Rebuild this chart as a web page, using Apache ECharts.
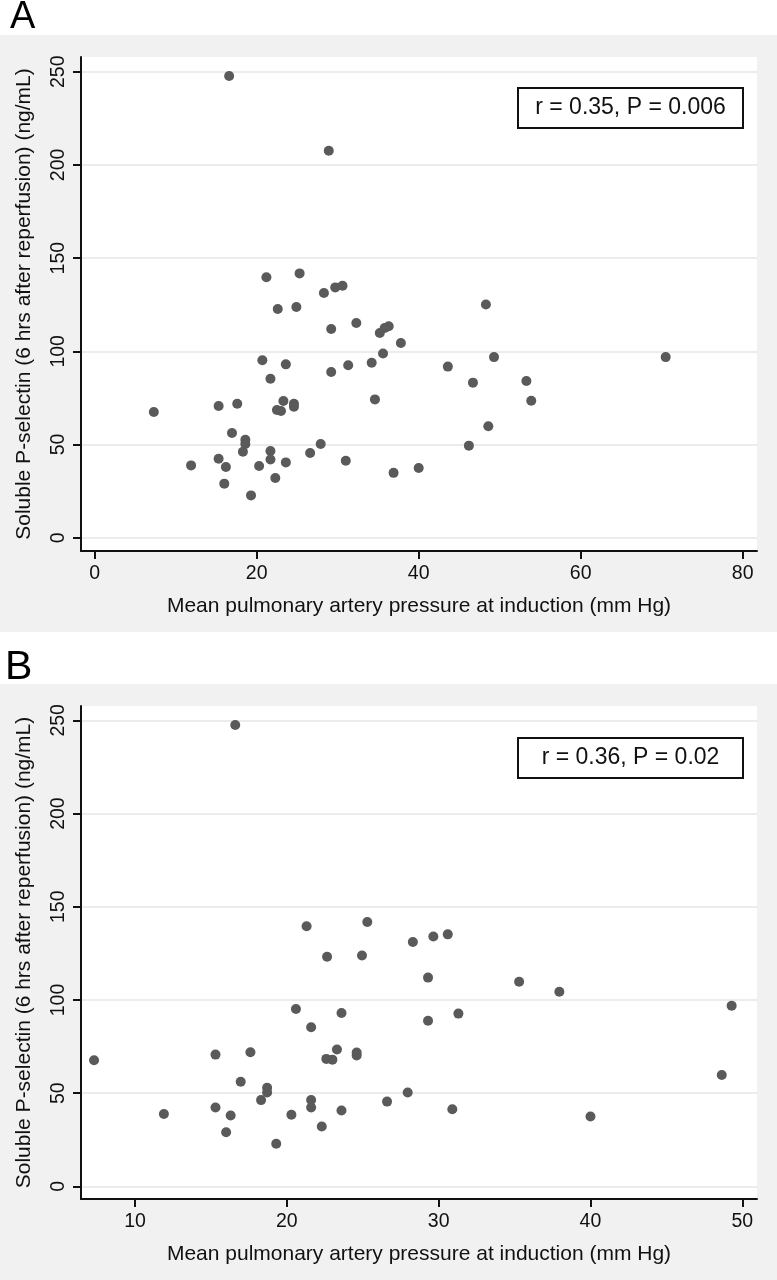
<!DOCTYPE html>
<html>
<head>
<meta charset="utf-8">
<script src="https://cdn.jsdelivr.net/npm/echarts@6/dist/echarts.min.js"></script>
<style>
html,body{margin:0;padding:0;background:#fff;}
#chart{width:777px;height:1280px;}
</style>
</head>
<body>
<div id="chart"></div>
<script>
// Panel A: all patients
const xA = [16.6, 28.9, 21.2, 25.3, 28.3, 29.7, 30.6, 22.6, 24.9, 48.3,
            29.2, 32.3, 35.2, 35.8, 36.3, 37.8, 20.7, 23.6, 21.7, 29.2,
            31.3, 34.2, 35.6, 7.3, 15.3, 17.6, 23.3, 22.5, 23.0, 24.6,
            24.6, 34.6, 16.95, 18.6, 18.6, 18.3, 15.3, 16.2, 11.9, 16.0,
            19.3, 20.3, 21.7, 21.7, 22.3, 23.6, 26.6, 27.9, 31.0, 36.9,
            49.3, 70.5, 43.6, 46.7, 53.3, 53.9, 48.6, 46.2, 40.0];
const yA = [247.7, 207.6, 139.7, 141.8, 131.3, 134.3, 135.2, 122.7, 123.8, 125.1,
            112.0, 115.2, 109.8, 112.5, 113.4, 104.5, 95.2, 93.0, 85.3, 88.9,
            92.5, 93.9, 98.8, 67.4, 70.7, 71.9, 73.3, 68.5, 68.0, 71.9,
            70.3, 74.2, 56.2, 52.6, 50.3, 46.1, 42.4, 37.9, 38.8, 29.0,
            22.7, 38.5, 46.5, 42.0, 32.0, 40.4, 45.4, 50.3, 41.3, 34.8,
            96.9, 96.9, 91.8, 83.2, 84.1, 73.5, 59.8, 49.4, 37.4];
// Panel B: subset
const xB = [16.6, 21.3, 25.3, 22.65, 24.95, 28.3, 29.65, 30.6, 20.6, 23.6,
            21.6, 7.3, 15.3, 17.6, 23.3, 22.6, 23.0, 24.6, 24.6, 16.96,
            18.7, 18.7, 18.3, 15.3, 16.3, 11.9, 16.0, 19.3, 20.3, 21.6,
            21.6, 22.3, 23.6, 26.6, 27.96, 30.9, 40.0, 29.3, 35.3, 37.95,
            29.3, 31.3, 49.3, 48.65];
const yB = [247.5, 139.6, 141.8, 123.2, 123.9, 131.1, 134.1, 135.2, 95.2, 93.0,
            85.4, 67.7, 70.7, 72.0, 73.4, 68.4, 68.0, 71.8, 70.2, 56.1,
            52.9, 50.4, 46.3, 42.3, 38.0, 38.8, 29.1, 22.9, 38.4, 46.4,
            42.3, 32.1, 40.7, 45.5, 50.4, 41.4, 37.5, 112.0, 109.8, 104.4,
            88.9, 92.7, 96.9, 59.8];

const yTicks = [0, 50, 100, 150, 200, 250];
const xTicksA = [0, 20, 40, 60, 80];
const xTicksB = [10, 20, 30, 40, 50];
const xTitle = 'Mean pulmonary artery pressure at induction (mm Hg)';
const yTitle = 'Soluble P-selectin (6 hrs after reperfusion) (ng/mL)';
const statA = 'r = 0.35, P = 0.006';
const statB = 'r = 0.36, P = 0.02';

const FONT = '"Liberation Sans", Arial, sans-serif';
const GREY = '#f1f1f1';
const DOT = '#5a5a5a';

function pairs(xs, ys) { return xs.map((x, i) => [x, ys[i]]); }

function xAxisCfg(idx, min, max, ticks) {
  return {
    type: 'value', gridIndex: idx, min: min, max: max,
    name: xTitle, nameLocation: 'middle', nameGap: 45,
    nameTextStyle: {fontFamily: FONT, fontSize: 21, color: '#111'},
    axisLine: {onZero: false, lineStyle: {color: '#111', width: 2}},
    axisTick: {show: true, length: 8, inside: false, customValues: ticks,
               lineStyle: {color: '#111', width: 2}},
    axisLabel: {customValues: ticks, margin: 13, fontFamily: FONT, fontSize: 19.5, color: '#111'},
    splitLine: {show: false}
  };
}
function yAxisCfg(idx, min, max) {
  return {
    type: 'value', gridIndex: idx, min: min, max: max,
    name: yTitle, nameLocation: 'middle', nameGap: 46, nameRotate: 90,
    nameTextStyle: {fontFamily: FONT, fontSize: 21, color: '#111'},
    axisLine: {onZero: false, lineStyle: {color: '#111', width: 2}},
    axisTick: {show: true, length: 8, inside: false, customValues: yTicks,
               lineStyle: {color: '#111', width: 2}},
    axisLabel: {customValues: yTicks, rotate: 90, margin: 12, fontFamily: FONT, fontSize: 19.5, color: '#111'},
    splitLine: {show: true, lineStyle: {color: '#e6e6e6', width: 1.5}}
  };
}

function statBox(top, text) {
  return {
    type: 'group', left: 517, top: top,
    children: [
      {type: 'rect', shape: {x: 0, y: 0, width: 225, height: 40},
       style: {fill: '#fff', stroke: '#111', lineWidth: 2}},
      {type: 'text', x: 112.5, y: 20,
       style: {text: text, font: '23px ' + FONT, fill: '#111',
               textAlign: 'center', textVerticalAlign: 'middle'}}
    ]
  };
}

const chart = echarts.init(document.getElementById('chart'), null, {renderer: 'canvas'});
chart.setOption({
  backgroundColor: '#ffffff',
  animation: false,
  graphic: [
    {type: 'rect', z: -10, left: 0, top: 35, shape: {width: 777, height: 597}, style: {fill: GREY}},
    {type: 'rect', z: -10, left: 0, top: 684, shape: {width: 777, height: 596}, style: {fill: GREY}},
    {type: 'text', left: 10, top: -1, style: {text: 'A', font: '38px ' + FONT, fill: '#000'}},
    {type: 'text', left: 5, top: 647, style: {text: 'B', font: '41px ' + FONT, fill: '#000'}},
    statBox(87, statA),
    statBox(737, statB)
  ],
  grid: [
    {left: 81, top: 57, width: 676, height: 494, show: true, backgroundColor: '#fff', borderWidth: 0},
    {left: 81, top: 706, width: 676, height: 493, show: true, backgroundColor: '#fff', borderWidth: 0}
  ],
  xAxis: [
    xAxisCfg(0, -1.69, 81.77, xTicksA),
    xAxisCfg(1, 6.44, 50.97, xTicksB)
  ],
  yAxis: [
    yAxisCfg(0, -7.13, 257.9),
    yAxisCfg(1, -6.75, 257.7)
  ],
  series: [
    {type: 'scatter', xAxisIndex: 0, yAxisIndex: 0, data: pairs(xA, yA),
     symbol: 'circle', symbolSize: 10, itemStyle: {color: DOT, opacity: 1}},
    {type: 'scatter', xAxisIndex: 1, yAxisIndex: 1, data: pairs(xB, yB),
     symbol: 'circle', symbolSize: 10, itemStyle: {color: DOT, opacity: 1}}
  ]
});
</script>
</body>
</html>
